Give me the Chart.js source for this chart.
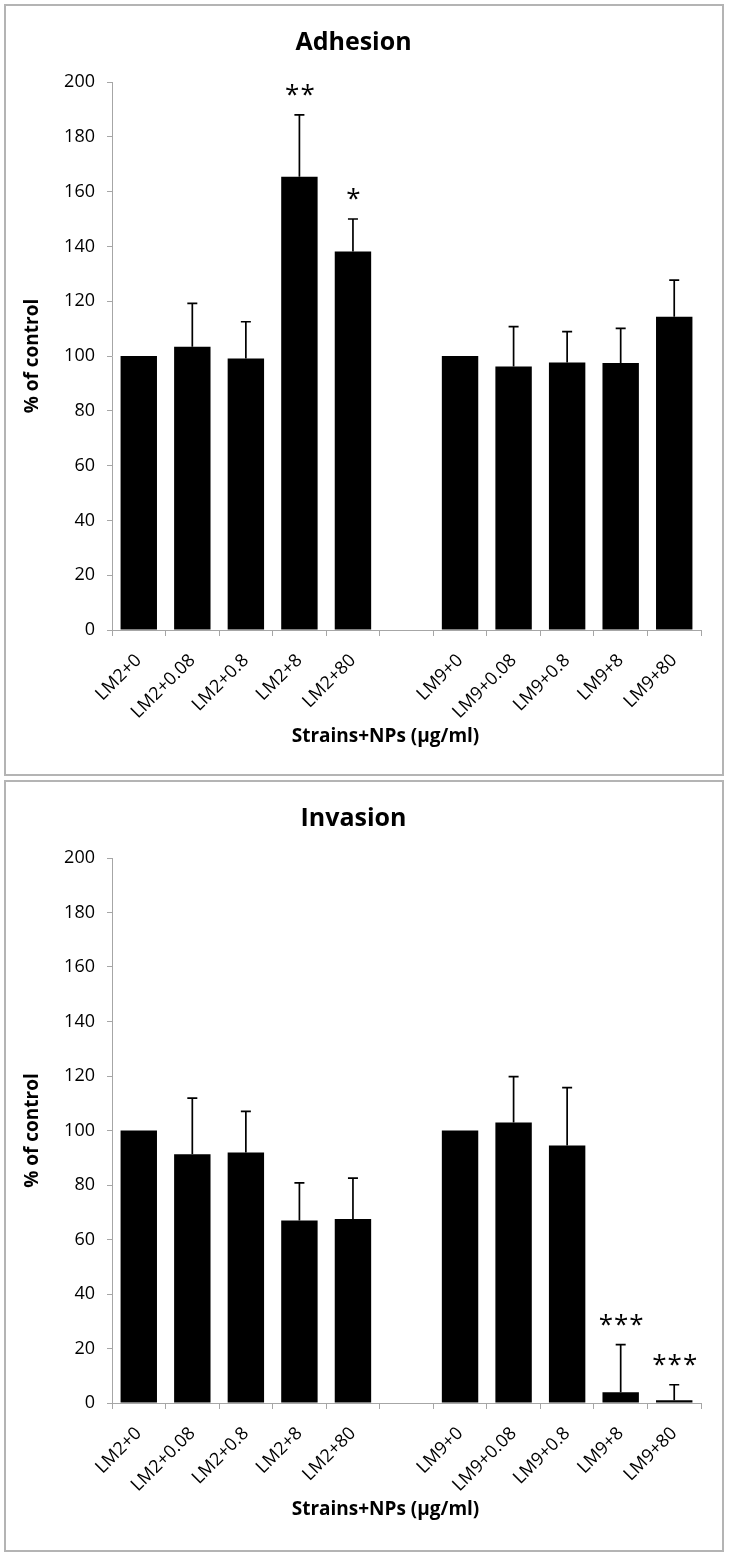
<!DOCTYPE html>
<html>
<head>
<meta charset="utf-8">
<script src="https://cdn.jsdelivr.net/npm/chart.js@4.4.1/dist/chart.umd.min.js"></script>
<style>
  body { margin: 0; background: #fff; }
  .panel { position: absolute; left: 4px; width: 716px; height: 768px; border: 2px solid #b4b4b4; background: #fff; }
  canvas { display: block; }
</style>
</head>
<body>
<div class="panel" style="top:4px"><canvas id="adhesionChart" width="716" height="768"></canvas></div>
<div class="panel" style="top:780px"><canvas id="invasionChart" width="716" height="768"></canvas></div>

<script>
// categories (empty slot separates the two strains)
const labels = ["LM2+0", "LM2+0.08", "LM2+0.8", "LM2+8", "LM2+80", "",
                "LM9+0", "LM9+0.08", "LM9+0.8", "LM9+8", "LM9+80"];

// Adhesion (% of control) and upper error (SD)
const adhesionValues = [100, 103.4, 99.1, 165.4, 138.1, null, 100, 96.2, 97.6, 97.4, 114.3];
const adhesionErrors = [0, 15.8, 13.4, 22.6, 11.9, null, 0, 14.5, 11.3, 12.7, 13.4];
const adhesionStars  = ["", "", "", "**", "*", "", "", "", "", "", ""];

// Invasion (% of control) and upper error (SD)
const invasionValues = [100, 91.3, 91.9, 67.0, 67.5, null, 100, 102.9, 94.5, 3.9, 1.0];
const invasionErrors = [0, 20.6, 15.1, 13.8, 15.0, null, 0, 16.9, 21.2, 17.5, 5.7];
const invasionStars  = ["", "", "", "", "", "", "", "", "", "***", "***"];

const yMin = 0, yMax = 200, yStep = 20;
const xTitle = "Strains+NPs (\u00b5g/ml)";
const yTitle = "% of control";

Chart.defaults.font.family = "'Open Sans', sans-serif";
Chart.defaults.color = "#000";

function makeChart(id, title, values, errors, stars, xAxisHeight) {
  // error bars, significance stars and x axis title
  const extras = {
    id: "extras",
    afterDatasetsDraw(chart) {
      const ctx = chart.ctx;
      const y = chart.scales.y;
      const meta = chart.getDatasetMeta(0);
      ctx.save();
      ctx.strokeStyle = "#000";
      ctx.lineWidth = 1.7;
      values.forEach((v, i) => {
        if (v == null) return;
        const bar = meta.data[i];
        const top = y.getPixelForValue(v + (errors[i] || 0));
        if (errors[i] > 0) {
          ctx.beginPath();
          ctx.moveTo(bar.x, bar.y);
          ctx.lineTo(bar.x, top);
          ctx.moveTo(bar.x - 5, top);
          ctx.lineTo(bar.x + 5, top);
          ctx.stroke();
        }
        if (stars[i]) {
          ctx.font = "26px 'Open Sans'";
          ctx.letterSpacing = "1px";
          ctx.textAlign = "center";
          ctx.textBaseline = "middle";
          ctx.fillStyle = "#000";
          ctx.fillText(stars[i], bar.x + 1, top - 19);
        }
      });
      ctx.restore();
    },
    afterDraw(chart) {
      const ctx = chart.ctx;
      const a = chart.chartArea;
      ctx.save();
      ctx.font = "bold 19px 'Open Sans'";
      ctx.textAlign = "center";
      ctx.textBaseline = "middle";
      ctx.fillStyle = "#000";
      ctx.fillText(xTitle, (a.left + a.right) / 2 - 21, a.bottom + 107);
      ctx.restore();
    }
  };

  return new Chart(document.getElementById(id), {
    type: "bar",
    data: {
      labels,
      datasets: [{
        data: values,
        backgroundColor: "#000",
        borderWidth: 0,
        barPercentage: 0.68,
        categoryPercentage: 1
      }]
    },
    options: {
      responsive: false,
      animation: false,
      layout: { padding: { left: 0, right: 21, top: 0, bottom: 0 } },
      plugins: {
        legend: { display: false },
        tooltip: { enabled: false },
        title: {
          display: true,
          text: title,
          font: { size: 25, weight: "bold" },
          color: "#000",
          padding: { top: 22, bottom: 24 }
        }
      },
      scales: {
        x: {
          grid: { offset: true, drawOnChartArea: false, tickLength: 6, color: "#a6a6a6" },
          border: { color: "#a6a6a6" },
          ticks: { minRotation: 45, maxRotation: 45, autoSkip: false, padding: 14, font: { size: 18 } },
          afterFit(s) { s.height = xAxisHeight; }
        },
        y: {
          min: yMin,
          max: yMax,
          grid: { drawOnChartArea: false, tickLength: 5, color: "#a6a6a6" },
          border: { color: "#a6a6a6" },
          ticks: { stepSize: yStep, padding: 12, font: { size: 18 } },
          title: {
            display: true,
            text: yTitle,
            font: { size: 19, weight: "bold" },
            padding: { top: 15, bottom: 0 }
          },
          afterFit(s) { s.width = 106; }
        }
      }
    },
    plugins: [extras]
  });
}

makeChart("adhesionChart", "Adhesion", adhesionValues, adhesionErrors, adhesionStars, 144);
makeChart("invasionChart", "Invasion", invasionValues, invasionErrors, invasionStars, 147);
</script>
</body>
</html>
